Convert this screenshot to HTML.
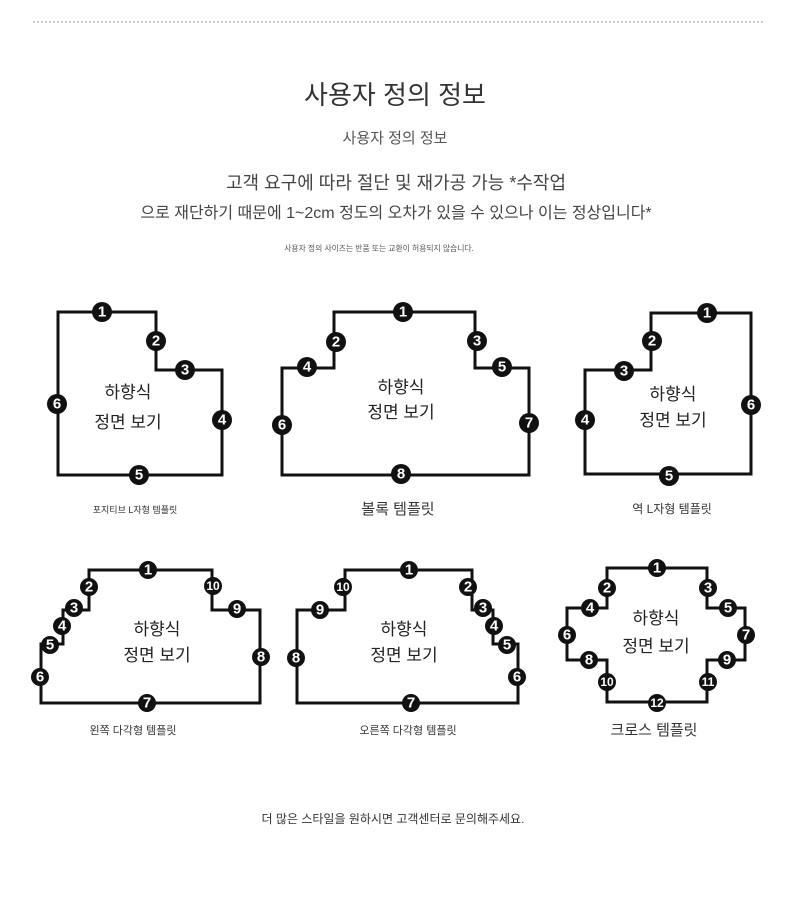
<!DOCTYPE html>
<html><head><meta charset="utf-8"><style>
html,body{margin:0;padding:0;background:#fff;}
svg{display:block;font-family:"Liberation Sans","Noto Sans CJK KR",sans-serif;}
.s{fill:none;stroke:#111;stroke-width:3;stroke-linejoin:miter}
.b circle{fill:#111}
.b text{fill:#fff;font-size:15px;font-weight:bold;text-anchor:middle;dominant-baseline:central}
.t{font-size:17px;fill:#222;text-anchor:middle}
.c{fill:#333;text-anchor:middle}
</style></head><body>
<svg width="790" height="898" viewBox="0 0 790 898">
<line x1="33" y1="22" x2="765" y2="22" stroke="#999" stroke-width="1" stroke-dasharray="2,2"/>
<text x="395" y="104" font-size="26" fill="#333" text-anchor="middle">사용자 정의 정보</text>
<text x="395" y="143" font-size="15" fill="#555" text-anchor="middle">사용자 정의 정보</text>
<text x="396" y="189" font-size="18" fill="#444" text-anchor="middle">고객 요구에 따라 절단 및 재가공 가능 *수작업</text>
<text x="396" y="218" font-size="16" fill="#444" text-anchor="middle">으로 재단하기 때문에 1~2cm 정도의 오차가 있을 수 있으나 이는 정상입니다*</text>
<text x="379" y="251" font-size="7.8" fill="#555" text-anchor="middle">사용자 정의 사이즈는 반품 또는 교환이 허용되지 않습니다.</text>

<path class="s" d="M58,312H156V370H222V475H58Z"/>
<path class="s" d="M334,312H475V368H529V475H282V368H334Z"/>
<path class="s" d="M651,313H751V474H585V370H651Z"/>
<path class="s" d="M89,570H212V610H260V703H41V644H63V610H89Z"/>
<path class="s" d="M345,570H472V610H493V644H518V703H297V610H345Z"/>
<path class="s" d="M607,568H707V608H745V660H707V702H607V660H567V608H607Z"/>

<g class="t">
<text x="128" y="398">하향식</text><text x="128" y="428">정면 보기</text>
<text x="401" y="393">하향식</text><text x="401" y="418">정면 보기</text>
<text x="673" y="400">하향식</text><text x="673" y="426">정면 보기</text>
<text x="157" y="635">하향식</text><text x="157" y="661">정면 보기</text>
<text x="404" y="635">하향식</text><text x="404" y="661">정면 보기</text>
<text x="656" y="624">하향식</text><text x="656" y="652">정면 보기</text>
</g>

<g class="b">
<circle cx="102" cy="312" r="10"/><text x="102" y="312">1</text>
<circle cx="156" cy="341" r="10"/><text x="156" y="341">2</text>
<circle cx="185" cy="370" r="10"/><text x="185" y="370">3</text>
<circle cx="222" cy="420" r="10"/><text x="222" y="420">4</text>
<circle cx="139" cy="475" r="10"/><text x="139" y="475">5</text>
<circle cx="57" cy="404" r="10"/><text x="57" y="404">6</text>

<circle cx="403" cy="312" r="10"/><text x="403" y="312">1</text>
<circle cx="336" cy="342" r="10"/><text x="336" y="342">2</text>
<circle cx="477" cy="341" r="10"/><text x="477" y="341">3</text>
<circle cx="307" cy="367" r="10"/><text x="307" y="367">4</text>
<circle cx="502" cy="367" r="10"/><text x="502" y="367">5</text>
<circle cx="282" cy="425" r="10"/><text x="282" y="425">6</text>
<circle cx="529" cy="423" r="10"/><text x="529" y="423">7</text>
<circle cx="401" cy="474" r="10"/><text x="401" y="474">8</text>

<circle cx="707" cy="313" r="10"/><text x="707" y="313">1</text>
<circle cx="652" cy="341" r="10"/><text x="652" y="341">2</text>
<circle cx="624" cy="371" r="10"/><text x="624" y="371">3</text>
<circle cx="585" cy="420" r="10"/><text x="585" y="420">4</text>
<circle cx="669" cy="476" r="10"/><text x="669" y="476">5</text>
<circle cx="751" cy="405" r="10"/><text x="751" y="405">6</text>

<circle cx="148" cy="570" r="9"/><text x="148" y="570">1</text>
<circle cx="89" cy="587" r="9"/><text x="89" y="587">2</text>
<circle cx="74" cy="608" r="9"/><text x="74" y="608">3</text>
<circle cx="62" cy="626" r="9"/><text x="62" y="626">4</text>
<circle cx="50" cy="645" r="9"/><text x="50" y="645">5</text>
<circle cx="40" cy="677" r="9"/><text x="40" y="677">6</text>
<circle cx="147" cy="703" r="9"/><text x="147" y="703">7</text>
<circle cx="261" cy="657" r="9"/><text x="261" y="657">8</text>
<circle cx="237" cy="609" r="9"/><text x="237" y="609">9</text>
<circle cx="213" cy="586" r="9"/><text x="213" y="586" style="font-size:12px">10</text>

<circle cx="409" cy="570" r="9"/><text x="409" y="570">1</text>
<circle cx="468" cy="587" r="9"/><text x="468" y="587">2</text>
<circle cx="483" cy="608" r="9"/><text x="483" y="608">3</text>
<circle cx="494" cy="626" r="9"/><text x="494" y="626">4</text>
<circle cx="507" cy="645" r="9"/><text x="507" y="645">5</text>
<circle cx="517" cy="677" r="9"/><text x="517" y="677">6</text>
<circle cx="411" cy="703" r="9"/><text x="411" y="703">7</text>
<circle cx="296" cy="658" r="9"/><text x="296" y="658">8</text>
<circle cx="320" cy="610" r="9"/><text x="320" y="610">9</text>
<circle cx="343" cy="587" r="9"/><text x="343" y="587" style="font-size:12px">10</text>

<circle cx="657" cy="568" r="9"/><text x="657" y="568">1</text>
<circle cx="607" cy="588" r="9"/><text x="607" y="588">2</text>
<circle cx="708" cy="588" r="9"/><text x="708" y="588">3</text>
<circle cx="590" cy="608" r="9"/><text x="590" y="608">4</text>
<circle cx="728" cy="608" r="9"/><text x="728" y="608">5</text>
<circle cx="567" cy="635" r="9"/><text x="567" y="635">6</text>
<circle cx="746" cy="635" r="9"/><text x="746" y="635">7</text>
<circle cx="589" cy="660" r="9"/><text x="589" y="660">8</text>
<circle cx="727" cy="660" r="9"/><text x="727" y="660">9</text>
<circle cx="607" cy="682" r="9"/><text x="607" y="682" style="font-size:12px">10</text>
<circle cx="708" cy="682" r="9"/><text x="708" y="682" style="font-size:12px">11</text>
<circle cx="657" cy="703" r="9"/><text x="657" y="703" style="font-size:12px">12</text>
</g>

<text class="c" x="135" y="513" font-size="9">포지티브 L자형 템플릿</text>
<text class="c" x="398" y="514" font-size="15">볼록 템플릿</text>
<text class="c" x="672" y="513" font-size="12">역 L자형 템플릿</text>
<text class="c" x="133" y="734" font-size="11">왼쪽 다각형 템플릿</text>
<text class="c" x="408" y="734" font-size="11">오른쪽 다각형 템플릿</text>
<text class="c" x="654" y="735" font-size="15">크로스 템플릿</text>
<text class="c" x="393" y="823" font-size="12">더 많은 스타일을 원하시면 고객센터로 문의해주세요.</text>
</svg>
</body></html>
